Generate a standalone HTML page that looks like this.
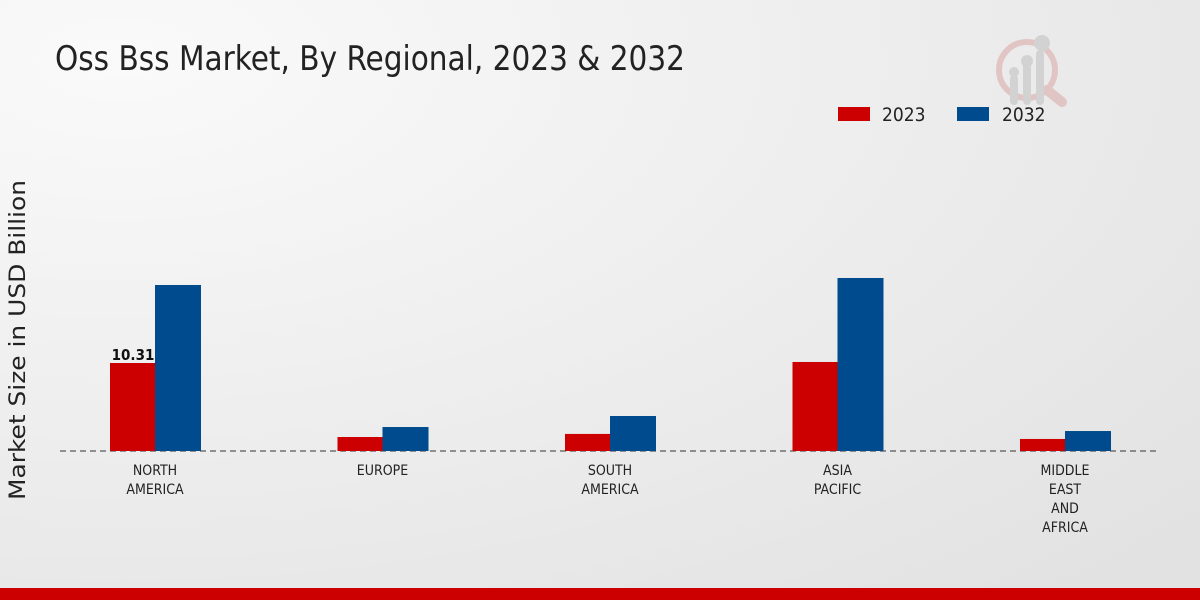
<!DOCTYPE html>
<html><head><meta charset="utf-8"><style>
body{margin:0;width:1200px;height:600px;overflow:hidden;font-family:"DejaVu Sans Condensed","Liberation Sans",sans-serif;}
</style></head><body>
<svg width="1200" height="600" xmlns="http://www.w3.org/2000/svg" font-family="DejaVu Sans Condensed, Liberation Sans, sans-serif">
<defs><radialGradient id="bg" cx="0.1" cy="0.1" r="1.2"><stop offset="0" stop-color="#fafafa"/><stop offset="1" stop-color="#e2e2e2"/></radialGradient></defs>
<rect width="1200" height="600" fill="url(#bg)"/>
<text x="55" y="70" font-size="34" fill="#222" textLength="630" lengthAdjust="spacingAndGlyphs">Oss Bss Market, By Regional, 2023 &amp; 2032</text>
<g opacity="0.5">
<circle cx="1027" cy="70" r="28" fill="none" stroke="#d9a0a0" stroke-width="6"/>
<line x1="1047" y1="90" x2="1062" y2="102" stroke="#d9a0a0" stroke-width="10" stroke-linecap="round"/>
<rect x="1010" y="75" width="8" height="30" rx="4" fill="#bbb"/><rect x="1023" y="62" width="8" height="43" rx="4" fill="#bbb"/><rect x="1036" y="50" width="8" height="55" rx="4" fill="#bbb"/>
<circle cx="1014" cy="72" r="5" fill="#bbb"/><circle cx="1027" cy="61" r="6" fill="#bbb"/><circle cx="1042" cy="43" r="8" fill="#bbb"/>
</g>
<g>
<rect x="838" y="107" width="32" height="14" fill="#cc0000"/>
<text x="882" y="121" font-size="19" fill="#222">2023</text>
<rect x="957" y="107" width="32" height="14" fill="#004b8d"/>
<text x="1002" y="121" font-size="19" fill="#222">2032</text>
</g>
<text transform="translate(25,340) rotate(-90)" text-anchor="middle" font-size="22" font-family="DejaVu Sans, sans-serif" fill="#222" textLength="320" lengthAdjust="spacingAndGlyphs">Market Size in USD Billion</text>
<g id="plot"></g>
<rect x="0" y="588" width="1200" height="12" fill="#cc0000"/>
</svg>
<script>
const categories=[["NORTH","AMERICA"],["EUROPE"],["SOUTH","AMERICA"],["ASIA","PACIFIC"],["MIDDLE","EAST","AND","AFRICA"]];
const values2023=[10.31,1.64,2.0,10.43,1.41];
const values2032=[19.45,2.81,4.1,20.27,2.34];
const labels2023=["10.31","","","",""];
const NS="http://www.w3.org/2000/svg";
const g=document.getElementById('plot');
const base=451, scale=8.535;
const xc=i=>155+i*227.5;
const y=v=>base-v*scale;
function mk(t,a){const e=document.createElementNS(NS,t);for(const k in a)e.setAttribute(k,a[k]);g.appendChild(e);return e;}
const ax=mk('line',{x1:60,x2:1160,y1:base,y2:base,stroke:'#333','stroke-dasharray':'6,4','stroke-width':1});


categories.forEach((c,i)=>{
  const b1=mk('rect',{x:xc(i)-45,y:y(values2023[i]),width:45,height:values2023[i]*scale,fill:'#cc0000'});
  
  
  const b2=mk('rect',{x:xc(i),y:y(values2032[i]),width:46,height:values2032[i]*scale,fill:'#004b8d'});
  
  
  if(labels2023[i]){const t=mk('text',{x:xc(i)-22,y:y(values2023[i])-3,'text-anchor':'middle','font-size':15,'font-weight':'bold',fill:'#111'});t.textContent=labels2023[i];
  
  }
  c.forEach((l,j)=>{const t=mk('text',{x:xc(i),y:475+j*19,'text-anchor':'middle','font-size':14,fill:'#222'});t.textContent=l;
  
  });
});
</script>
</body></html>
